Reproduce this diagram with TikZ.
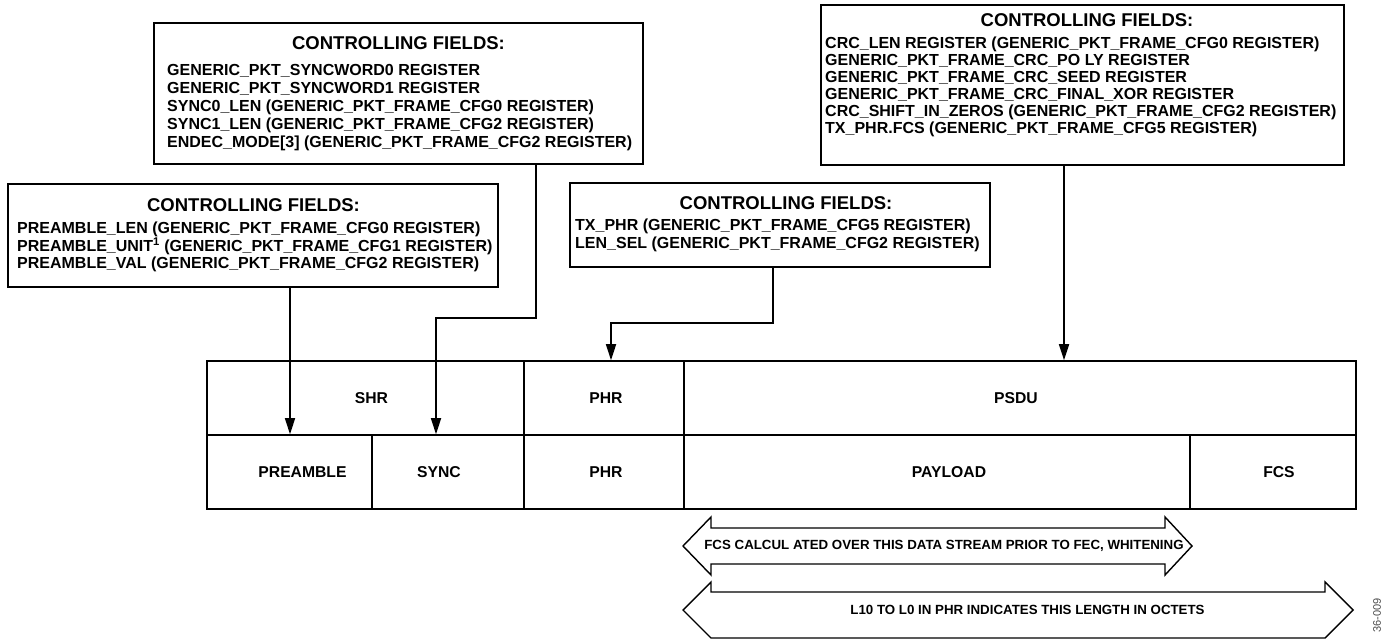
\documentclass[tikz,border=0pt]{standalone}
\usepackage{fontspec}
\setmainfont{Liberation Sans}
\usetikzlibrary{arrows.meta}
\tikzset{
  cfbox/.style={draw, line width=1.7pt, inner sep=0pt},
  cftitle/.style={inner sep=0pt, font=\fontsize{18.5}{20}\selectfont\bfseries},
  cfbody/.style={inner sep=0pt, align=left, anchor=north west, font=\fontsize{16}{18}\selectfont\bfseries},
  cell/.style={draw, line width=1.6pt, inner sep=0pt, minimum height=74pt},
  lbl/.style={inner sep=0pt, font=\fontsize{15.7}{18}\selectfont\bfseries},
  arr/.style={line width=1.7pt, -{Triangle[length=16pt,width=10pt]}},
  blk/.style={draw, line width=1.4pt, line join=miter},
  arrtxt/.style={inner sep=0pt, font=\fontsize{13.3}{15}\selectfont\bfseries},
}
\begin{document}
\begin{tikzpicture}[x=1pt,y=1pt]
\useasboundingbox (0,0) rectangle (1383,-640);

% controlling field boxes
\node[cfbox, minimum width=489pt, minimum height=141pt] (boxA) at (398.5,-93.5) {};
\node[cftitle] (titleA) at (398.5,-43) {CONTROLLING FIELDS:};
\node[cfbody] (bodyA) at (167,-64.2) {GENERIC\_PKT\_SYNCWORD0 REGISTER\\
GENERIC\_PKT\_SYNCWORD1 REGISTER\\
SYNC0\_LEN (GENERIC\_PKT\_FRAME\_CFG0 REGISTER)\\
SYNC1\_LEN (GENERIC\_PKT\_FRAME\_CFG2 REGISTER)\\
ENDEC\_MODE[3] (GENERIC\_PKT\_FRAME\_CFG2 REGISTER)};

\node[cfbox, minimum width=490pt, minimum height=103pt] (boxB) at (253,-235.5) {};
\node[cftitle] (titleB) at (253.5,-205) {CONTROLLING FIELDS:};
\node[cfbody, font=\fontsize{16}{17.5}\selectfont\bfseries] (bodyB) at (17,-222.2) {PREAMBLE\_LEN (GENERIC\_PKT\_FRAME\_CFG0 REGISTER)\\
PREAMBLE\_UNIT\textsuperscript{1} (GENERIC\_PKT\_FRAME\_CFG1 REGISTER)\\
PREAMBLE\_VAL (GENERIC\_PKT\_FRAME\_CFG2 REGISTER)};

\node[cfbox, minimum width=420pt, minimum height=84pt] (boxC) at (780,-225) {};
\node[cftitle] (titleC) at (786,-203) {CONTROLLING FIELDS:};
\node[cfbody] (bodyC) at (575,-219.2) {TX\_PHR (GENERIC\_PKT\_FRAME\_CFG5 REGISTER)\\
LEN\_SEL (GENERIC\_PKT\_FRAME\_CFG2 REGISTER)};

\node[cfbox, minimum width=523pt, minimum height=160pt] (boxD) at (1082.5,-85) {};
\node[cftitle] (titleD) at (1087,-20) {CONTROLLING FIELDS:};
\node[cfbody, font=\fontsize{16}{17}\selectfont\bfseries] (bodyD) at (825,-37.2) {CRC\_LEN REGISTER (GENERIC\_PKT\_FRAME\_CFG0 REGISTER)\\
GENERIC\_PKT\_FRAME\_CRC\_PO LY REGISTER\\
GENERIC\_PKT\_FRAME\_CRC\_SEED REGISTER\\
GENERIC\_PKT\_FRAME\_CRC\_FINAL\_XOR REGISTER\\
CRC\_SHIFT\_IN\_ZEROS (GENERIC\_PKT\_FRAME\_CFG2 REGISTER)\\
TX\_PHR.FCS (GENERIC\_PKT\_FRAME\_CFG5 REGISTER)};

% frame table
\node[cell, minimum width=317pt, label={[lbl, xshift=6pt]center:SHR}] (shr) at (365.5,-398) {};
\node[cell, minimum width=160pt, label={[lbl, xshift=2pt]center:PHR}] (phrtop) at (604,-398) {};
\node[cell, minimum width=672pt, label={[lbl, xshift=-4pt]center:PSDU}] (psdu) at (1020,-398) {};
\node[cell, minimum width=165pt, label={[lbl, xshift=13pt]center:PREAMBLE}] (pre) at (289.5,-472) {};
\node[cell, minimum width=152pt, label={[lbl, xshift=-9pt]center:SYNC}] (sync) at (448,-472) {};
\node[cell, minimum width=160pt, label={[lbl, xshift=2pt]center:PHR}] (phrbot) at (604,-472) {};
\node[cell, minimum width=506pt, label={[lbl, xshift=12pt]center:PAYLOAD}] (payload) at (937,-472) {};
\node[cell, minimum width=166pt, label={[lbl, xshift=6pt]center:FCS}] (fcs) at (1273,-472) {};

% connectors
\coordinate (kA) at (436,-318);
\coordinate (kC) at (611,-323);
\coordinate (kB) at ([xshift=0.5pt]pre.north);
\draw[arr] (boxB.south -| kB) -- (kB);
\draw[arr] ([xshift=137.5pt]boxA.south) |- (kA) -- (kA |- sync.north);
\draw[arr] ([xshift=-7pt]boxC.south) |- (kC) -- (kC |- phrtop.north);
\draw[arr] ([xshift=-18.5pt]boxD.south) -- ([xshift=-18.5pt]boxD.south |- psdu.north);

% block arrows
\draw[blk] (683,-546) -- (711,-517) -- (711,-528) -- (1165,-528) -- (1165,-517) -- (1192,-546) -- (1165,-575) -- (1165,-564) -- (711,-564) -- (711,-575) -- cycle;
\node[arrtxt] (t1) at (944,-546) {FCS CALCUL ATED OVER THIS DATA STREAM PRIOR TO FEC, WHITENING};
\draw[blk] (683,-610) -- (711,-582) -- (711,-592) -- (1325,-592) -- (1325,-582) -- (1353,-610) -- (1325,-638) -- (711,-638) -- cycle;
\node[arrtxt] (t2) at (1027.5,-610) {L10 TO L0 IN PHR INDICATES THIS LENGTH IN OCTETS};

\node[inner sep=0pt, rotate=90, anchor=east, text=black!70, font=\fontsize{11}{12}\selectfont] (fig) at (1377,-598) {36-009};
\end{tikzpicture}
\end{document}
